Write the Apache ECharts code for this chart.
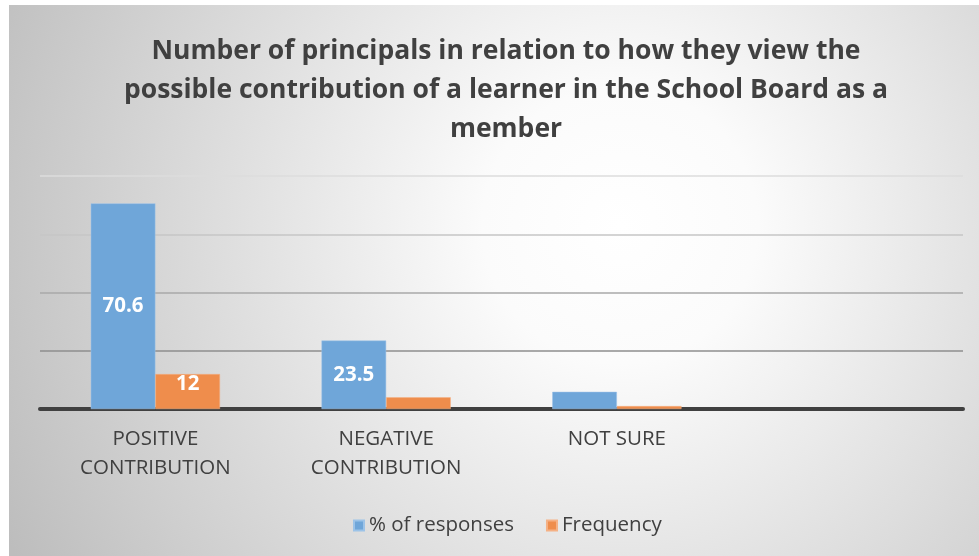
<!DOCTYPE html>
<html>
<head>
<meta charset="utf-8">
<script src="https://cdn.jsdelivr.net/npm/echarts@6/dist/echarts.min.js"></script>
<style>html,body{margin:0;padding:0;background:#fff;}#c{width:979px;height:556px;}</style>
</head>
<body>
<div id="c"></div>
<script>
const titleText = 'Number of principals in relation to how they view the\npossible contribution of a learner in the School Board as a\nmember';
const categories = ['POSITIVE\nCONTRIBUTION', 'NEGATIVE\nCONTRIBUTION', 'NOT SURE', ''];
const seriesNames = ['% of responses', 'Frequency'];
const percentValues = [70.6, 23.5, 5.9, null];
const frequencyValues = [12, 4, 1, null];
const percentLabelShown = [true, true, false, false];
const frequencyLabelShown = [true, false, false, false];
const yTicks = [0, 20, 40, 60, 80];

const FONT = '"Open Sans", Lato, sans-serif';
const chart = echarts.init(document.getElementById('c'));

function mk(vals, shown, pos, dist) {
  return vals.map((v, i) => ({
    value: v === null ? '-' : v,
    label: { show: shown[i], position: pos, distance: dist }
  }));
}

chart.setOption({
  backgroundColor: '#ffffff',
  textStyle: { fontFamily: FONT },
  graphic: [{
    type: 'rect', z: -10, silent: true,
    shape: { x: 9, y: 5, width: 970, height: 551 },
    style: {
      fill: new echarts.graphic.RadialGradient(0.63, 0.4, 1.25, [
        { offset: 0, color: '#ffffff' },
        { offset: 0.2, color: '#fbfbfb' },
        { offset: 1, color: '#bdbdbd' }
      ])
    }
  }],
  title: {
    text: titleText,
    left: 501, top: 27, textAlign: 'center',
    textStyle: { fontFamily: FONT, fontSize: 26.5, fontWeight: 'bold', color: '#404040', lineHeight: 39 }
  },
  legend: {
    data: seriesNames,
    left: 348, top: 510,
    itemWidth: 10, itemHeight: 10, itemGap: 32,
    icon: 'rect',
    textStyle: { fontFamily: FONT, fontSize: 20.5, color: '#404040' }
  },
  grid: { left: 40, right: 16, top: 176, bottom: 147, containLabel: false },
  xAxis: {
    type: 'category', data: categories,
    axisLine: { lineStyle: { color: '#404040', width: 4 } },
    axisTick: { show: false },
    axisLabel: { interval: 0, margin: 16, fontFamily: FONT, fontSize: 20.5, color: '#404040', lineHeight: 29 }
  },
  yAxis: {
    type: 'value', min: yTicks[0], max: yTicks[yTicks.length - 1], interval: 20,
    axisLine: { show: false }, axisTick: { show: false }, axisLabel: { show: false },
    splitLine: { lineStyle: { color: ['#909090', '#8e8e8e', '#a8a8a8', '#c6c6c6', '#dcdcdc'], width: 1.5 } }
  },
  series: [
    {
      name: seriesNames[0], type: 'bar', barGap: '0%', barCategoryGap: '44%',
      itemStyle: { color: '#6fa6d9', borderColor: '#9cc3e8', borderWidth: 0.5 },
      label: { fontFamily: FONT, fontSize: 20.5, fontWeight: 'bold', color: '#ffffff' },
      data: mk(percentValues, percentLabelShown, 'inside', 0)
    },
    {
      name: seriesNames[1], type: 'bar',
      itemStyle: { color: '#ef8d4c', borderColor: '#f5b185', borderWidth: 0.5 },
      label: { fontFamily: FONT, fontSize: 20.5, fontWeight: 'bold', color: '#ffffff' },
      data: mk(frequencyValues, frequencyLabelShown, 'insideTop', 0)
    }
  ]
});
</script>
</body>
</html>
